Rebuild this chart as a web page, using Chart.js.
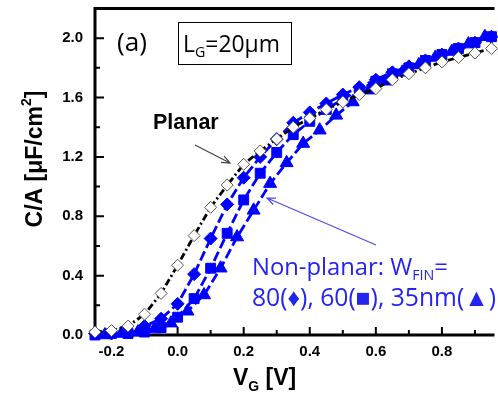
<!DOCTYPE html>
<html>
<head>
<meta charset="utf-8">
<script src="https://cdn.jsdelivr.net/npm/chart.js@4/dist/chart.umd.min.js"></script>
<style>
  html, body { margin: 0; padding: 0; background: #fff; }
  #wrap { width: 498px; height: 399px; }
</style>
</head>
<body>
<div id="wrap"><canvas id="chart"></canvas></div>
<script>
// gate voltage grid for planar, 80nm and 60nm curves
const vgGrid = [-0.25, -0.2, -0.15, -0.1, -0.05, 0.0, 0.05, 0.1, 0.15, 0.2, 0.25, 0.3, 0.35,
                0.4, 0.45, 0.5, 0.55, 0.6, 0.65, 0.7, 0.75, 0.8, 0.85, 0.9, 0.95];
const capPlanar = [0.02, 0.03, 0.06, 0.14, 0.28, 0.47, 0.67, 0.86, 1.01, 1.15, 1.24, 1.32, 1.40,
                   1.46, 1.52, 1.57, 1.62, 1.66, 1.72, 1.76, 1.80, 1.84, 1.87, 1.90, 1.93];
const cap80 = [0.01, 0.01, 0.02, 0.06, 0.11, 0.21, 0.41, 0.65, 0.88, 1.06, 1.20, 1.32, 1.43,
               1.50, 1.56, 1.62, 1.67, 1.72, 1.77, 1.81, 1.85, 1.89, 1.93, 1.97, 2.01];
const cap60 = [0.0, 0.01, 0.01, 0.02, 0.05, 0.12, 0.245, 0.45, 0.685, 0.91, 1.09, 1.23, 1.35,
               1.44, 1.52, 1.59, 1.65, 1.71, 1.76, 1.80, 1.85, 1.89, 1.93, 1.97, 2.01];
// 35nm curve was sampled slightly offset in Vg
const vg35 = [-0.22, -0.17, -0.12, -0.07, -0.02, 0.03, 0.08, 0.13, 0.18, 0.23, 0.28, 0.33,
              0.38, 0.43, 0.48, 0.53, 0.58, 0.63, 0.68, 0.73, 0.78, 0.83, 0.88, 0.93];
const cap35 = [0.0, 0.01, 0.02, 0.04, 0.08, 0.16, 0.27, 0.45, 0.66, 0.84, 1.02, 1.16,
               1.29, 1.38, 1.48, 1.57, 1.65, 1.71, 1.77, 1.82, 1.87, 1.91, 1.96, 2.01];

const xMajor = [-0.2, 0.0, 0.2, 0.4, 0.6, 0.8];
const xMinor = [-0.1, 0.1, 0.3, 0.5, 0.7, 0.9];
const yMajor = [0.0, 0.4, 0.8, 1.2, 1.6, 2.0];
const yMinor = [0.2, 0.6, 1.0, 1.4, 1.8];

const BLUE = '#0000ff';
const TEXT_BLUE = '#2424f0';

const pts = (xs, ys) => xs.map((v, i) => ({ x: v, y: ys[i] }));

const sans = s => `${s}px "Open Sans", "Noto Sans", sans-serif`;
const bold = s => `bold ${s}px "Liberation Sans", Arial, sans-serif`;

// runs: [text, sizeFactor, dyFactor]; base size is scaled so the run fits the given width
function fitRuns(ctx, runs, fontFn, x, y, width) {
  const widthAt = s => runs.reduce((w, [t, f]) => { ctx.font = fontFn(s * f); return w + ctx.measureText(t).width; }, 0);
  const s = 20 * width / widthAt(20);
  let cx = x;
  runs.forEach(([t, f, dy]) => {
    ctx.font = fontFn(s * f);
    ctx.fillText(t, cx, y + (dy || 0) * s);
    cx += ctx.measureText(t).width;
  });
}
function drawRuns(ctx, runs, x, y) {
  let cx = x;
  runs.forEach(([t, font, dy]) => {
    ctx.font = font;
    ctx.fillText(t, cx, y + (dy || 0));
    cx += ctx.measureText(t).width;
  });
}
function runsWidth(ctx, runs) {
  let w = 0;
  runs.forEach(([t, font]) => { ctx.font = font; w += ctx.measureText(t).width; });
  return w;
}
function arrow(ctx, x1, y1, x2, y2, color) {
  const ang = Math.atan2(y2 - y1, x2 - x1);
  const h = 9, s = 0.4;
  ctx.strokeStyle = color;
  ctx.lineWidth = 1.2;
  ctx.beginPath();
  ctx.moveTo(x1, y1); ctx.lineTo(x2, y2);
  ctx.moveTo(x2 - h * Math.cos(ang - s), y2 - h * Math.sin(ang - s));
  ctx.lineTo(x2, y2);
  ctx.lineTo(x2 - h * Math.cos(ang + s), y2 - h * Math.sin(ang + s));
  ctx.stroke();
}

const decor = {
  id: 'decor',
  beforeDatasetsDraw(chart) {
    const { ctx, chartArea: a, scales: { x, y } } = chart;
    ctx.save();
    ctx.strokeStyle = '#000';
    ctx.lineWidth = 3;
    ctx.beginPath();
    ctx.moveTo(a.right + 5, a.top); ctx.lineTo(a.left, a.top);
    ctx.lineTo(a.left, a.bottom); ctx.lineTo(a.right + 5, a.bottom);
    ctx.stroke();
    ctx.lineWidth = 2;
    ctx.beginPath();
    xMajor.forEach(v => { const p = x.getPixelForValue(v); ctx.moveTo(p, a.bottom); ctx.lineTo(p, a.bottom - 8); });
    xMinor.forEach(v => { const p = x.getPixelForValue(v); ctx.moveTo(p, a.bottom); ctx.lineTo(p, a.bottom - 5); });
    yMajor.forEach(v => { const p = y.getPixelForValue(v); ctx.moveTo(a.left, p); ctx.lineTo(a.left + 9, p); });
    yMinor.forEach(v => { const p = y.getPixelForValue(v); ctx.moveTo(a.left, p); ctx.lineTo(a.left + 5, p); });
    ctx.stroke();
    ctx.restore();
  },
  afterDraw(chart) {
    const { ctx } = chart;
    ctx.save();
    ctx.fillStyle = '#000';
    ctx.textBaseline = 'alphabetic';
    ctx.textAlign = 'left';

    // axis titles
    const yRuns = [['C/A [\u03bcF/cm', bold(23)], ['2', bold(14), -11], [']', bold(23)]];
    const yw = runsWidth(ctx, yRuns);
    ctx.save();
    ctx.translate(42, 159);
    ctx.rotate(-Math.PI / 2);
    drawRuns(ctx, yRuns, -yw / 2, 0);
    ctx.restore();
    drawRuns(ctx, [['V', bold(23)], ['G', bold(14), 6], [' [V]', bold(23)]], 233, 385);

    // panel label and gate length box
    fitRuns(ctx, [['(a)', 1]], sans, 117, 51, 30);
    ctx.strokeStyle = '#000';
    ctx.lineWidth = 1;
    ctx.strokeRect(178.5, 22.5, 113, 42);
    fitRuns(ctx, [['L', 1], ['G', 0.62, 0.2], ['=20\u03bcm', 1]], sans, 183, 52, 97);

    // planar annotation
    ctx.font = bold(21.5);
    ctx.fillText('Planar', 153, 129);
    arrow(ctx, 195, 145, 230, 163, '#444');

    // non-planar annotation
    arrow(ctx, 376, 245, 267, 198, '#4a4af5');
    ctx.fillStyle = TEXT_BLUE;
    fitRuns(ctx, [['Non-planar: W', 1], ['FIN', 0.6, 0.22], ['=', 1]], sans, 252, 275, 196);
    fitRuns(ctx, [['80(\u2666), 60(\u25a0), 35nm(\u25b2)', 1]], sans, 252, 306, 244);
    ctx.restore();
  }
};

const lineBase = { showLine: true, tension: 0, borderWidth: 2.8, clip: false };

new Chart(document.getElementById('chart').getContext('2d'), {
  type: 'scatter',
  data: {
    datasets: [
      { ...lineBase, label: 'Planar', data: pts(vgGrid, capPlanar),
        borderColor: '#000', borderDash: [7, 3, 2, 3],
        pointStyle: 'rectRot', pointRadius: 6, pointBackgroundColor: '#fff',
        pointBorderColor: '#555', pointBorderWidth: 1 },
      { ...lineBase, label: '80nm', data: pts(vgGrid, cap80),
        borderColor: BLUE, borderDash: [10, 4],
        pointStyle: 'rectRot', pointRadius: 6.5, pointBackgroundColor: BLUE,
        pointBorderColor: BLUE, pointBorderWidth: 1 },
      { ...lineBase, label: '60nm', data: pts(vgGrid, cap60),
        borderColor: BLUE, borderDash: [10, 4],
        pointStyle: 'rect', pointRadius: 7, pointBackgroundColor: BLUE,
        pointBorderColor: BLUE, pointBorderWidth: 1 },
      { ...lineBase, label: '35nm', data: pts(vg35, cap35),
        borderColor: BLUE, borderDash: [10, 4],
        pointStyle: 'triangle', pointRadius: 7.5, pointBackgroundColor: BLUE,
        pointBorderColor: BLUE, pointBorderWidth: 1 }
    ]
  },
  options: {
    responsive: true,
    maintainAspectRatio: false,
    animation: false,
    devicePixelRatio: 1,
    layout: { padding: { top: 6, right: 0, left: 0, bottom: 0 } },
    plugins: { legend: { display: false }, tooltip: { enabled: false } },
    scales: {
      x: {
        type: 'linear', min: -0.25, max: 0.944,
        grid: { display: false, drawTicks: false }, border: { display: false },
        ticks: { color: '#000', padding: 8, autoSkip: false, maxRotation: 0,
                 font: { family: '"Liberation Sans", Arial, sans-serif', size: 15, weight: 'bold' },
                 callback: v => v.toFixed(1) },
        afterBuildTicks: s => { s.ticks = xMajor.map(v => ({ value: v })); },
        afterFit: s => { s.height = 64; s.paddingLeft = 0; s.paddingRight = 0; }
      },
      y: {
        type: 'linear', min: 0, max: 2.2,
        grid: { display: false, drawTicks: false }, border: { display: false },
        ticks: { color: '#000', padding: 12, autoSkip: false,
                 font: { family: '"Liberation Sans", Arial, sans-serif', size: 15, weight: 'bold' },
                 callback: v => v.toFixed(1) },
        afterBuildTicks: s => { s.ticks = yMajor.map(v => ({ value: v })); },
        afterFit: s => { s.width = 95; s.paddingTop = 0; s.paddingBottom = 0; }
      }
    }
  },
  plugins: [decor]
});
</script>
</body>
</html>
